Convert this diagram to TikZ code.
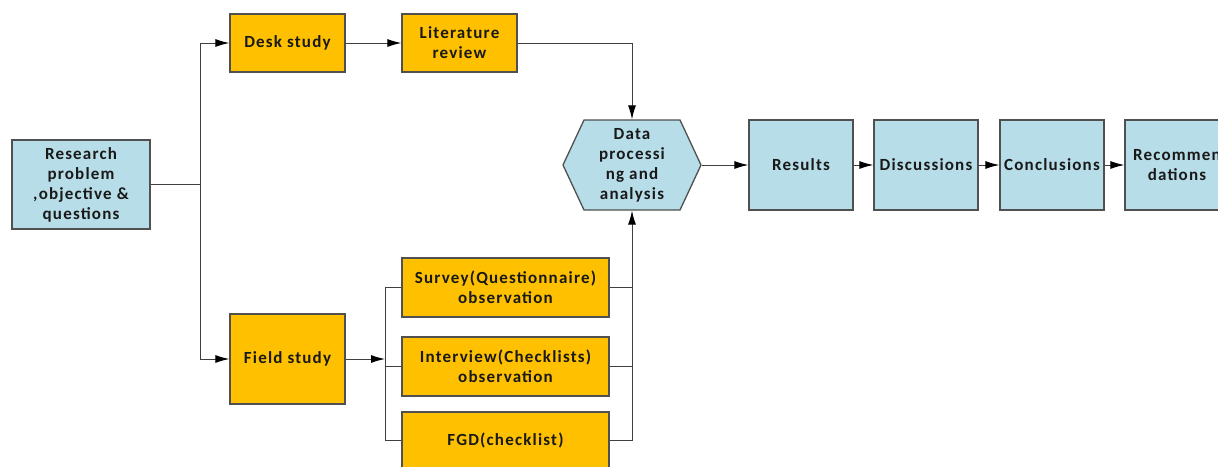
\documentclass[tikz,border=0pt]{standalone}
\usepackage{fontspec}
\setmainfont{Carlito}[LetterSpace=7]
\usetikzlibrary{arrows.meta,shapes.symbols}
\definecolor{boxorange}{HTML}{FFC000}
\definecolor{boxblue}{HTML}{B7DDE8}
\definecolor{edgegray}{HTML}{505050}
\tikzset{
  base/.style={draw=edgegray, line width=1.3pt, align=center, font=\fontsize{17}{20}\selectfont\bfseries, inner sep=0pt, text=black!90},
  obox/.style={base, fill=boxorange},
  bbox/.style={base, fill=boxblue},
  conn/.style={draw=black!75, line width=1pt},
  arr/.style={conn, -{Latex[length=14pt,width=8pt,color=black]}},
}
\begin{document}
\begin{tikzpicture}[x=1pt,y=-1pt]
\useasboundingbox (0,0) rectangle (1218,466);
\clip (0,0) rectangle (1218,466);
\node[bbox, minimum width=138pt, minimum height=89pt] (rp) at (81,184.5) {Research\\problem\\,objective \&\\questions};
\node[obox, minimum width=115pt, minimum height=58pt] (desk) at (287.5,43) {Desk study};
\node[obox, minimum width=115pt, minimum height=58pt] (lit) at (459.5,43) {Literature\\review};
\node[obox, minimum width=115pt, minimum height=90pt] (field) at (287.5,359) {Field study};
\node[obox, minimum width=207pt, minimum height=59pt] (survey) at (505.5,287.5) {Survey(Questionnaire)\\observation};
\node[obox, minimum width=207pt, minimum height=59pt] (inter) at (505.5,366.5) {Interview(Checklists)\\observation};
\node[obox, minimum width=207pt, minimum height=56pt] (fgd) at (505.5,440) {FGD(checklist)};
\node[bbox, signal, signal to=east and west, signal pointer angle=130, minimum width=138pt, minimum height=90pt] (data) at (632,165) {Data\\processi\\ng and\\analysis};
\node[bbox, minimum width=104pt, minimum height=90pt] (res) at (801,165) {Results};
\node[bbox, minimum width=104pt, minimum height=90pt] (disc) at (926,165) {Discussions};
\node[bbox, minimum width=104pt, minimum height=90pt] (conc) at (1052,165) {Conclusions};
\node[bbox, minimum width=104pt, minimum height=90pt] (rec) at (1177,165) {Recommen\\dations};
\coordinate (j1) at (200,184.5);
\coordinate (j2) at (385,359);
\coordinate (j3) at (632,287.5);
\draw[conn] (rp.east) -- (j1);
\draw[arr] (j1) |- (desk.west);
\draw[arr] (j1) |- (field.west);
\draw[arr] (desk) -- (lit);
\draw[arr] (lit.east) -| (data.north);
\draw[arr] (field.east) -- (j2);
\draw[conn] (j2) |- (survey.west);
\draw[conn] (j2) |- (inter.west);
\draw[conn] (j2) |- (fgd.west);
\draw[conn] (survey.east) -- (j3);
\draw[conn] (inter.east) -| (j3);
\draw[conn] (fgd.east) -| (j3);
\draw[arr] (j3) -- (data.south);
\draw[arr] (data.east) -- (res.west);
\draw[arr] (res) -- (disc);
\draw[arr] (disc) -- (conc);
\draw[arr] (conc) -- (rec);
\end{tikzpicture}
\end{document}
